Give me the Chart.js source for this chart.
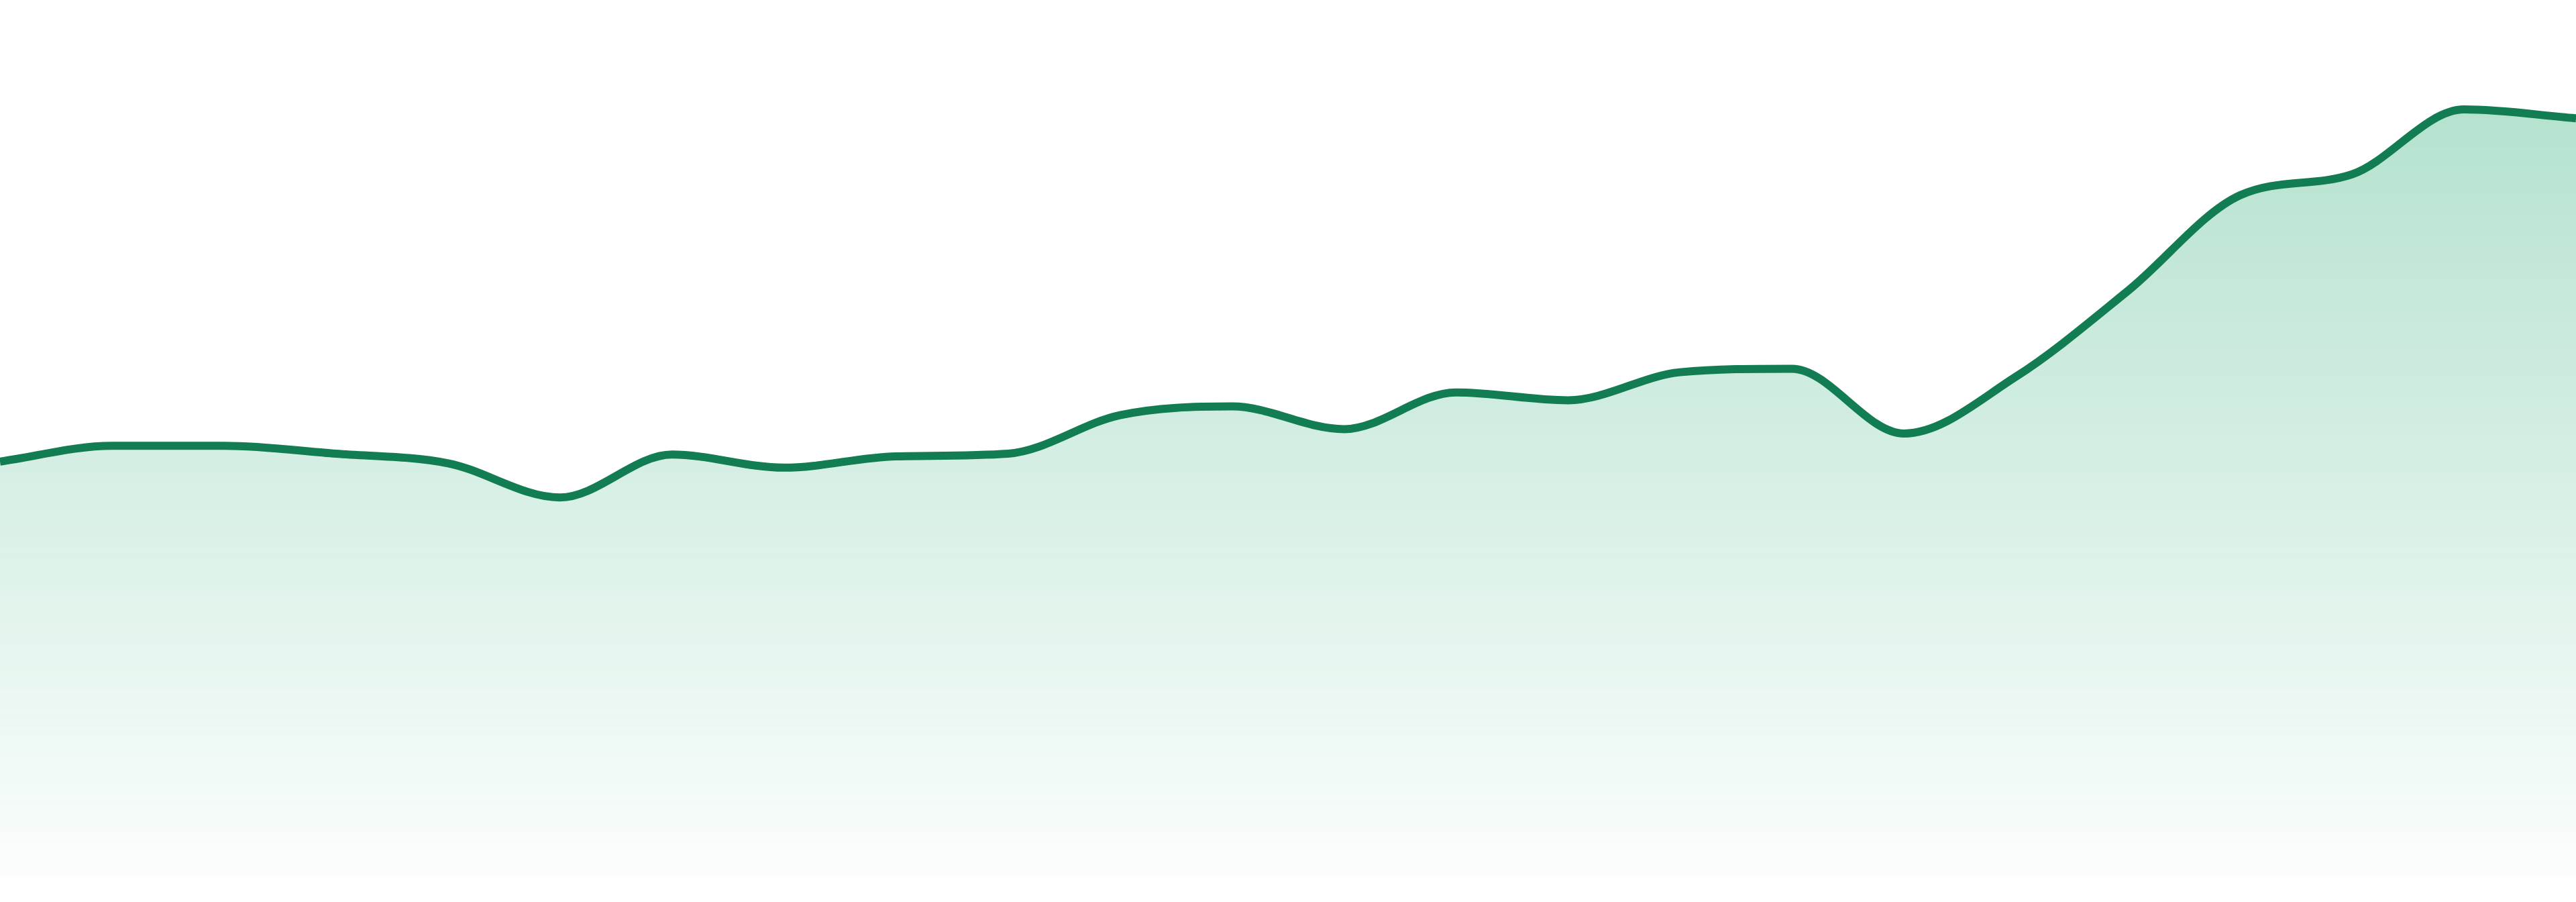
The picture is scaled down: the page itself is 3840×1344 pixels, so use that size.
<!DOCTYPE html>
<html>
<head>
<meta charset="utf-8">
<script src="https://cdn.jsdelivr.net/npm/chart.js@4/dist/chart.umd.min.js"></script>
<style>
  html, body { margin: 0; padding: 0; background: #fff; overflow: hidden; }
  #wrap { width: 3840px; height: 1344px; position: relative; }
</style>
</head>
<body>
<div id="wrap"><canvas id="areaChart"></canvas></div>
<script>
// du lieu doc tu hinh
const labels = ['01','02','03','04','05','06','07','08','09','10','11','12',
                '13','14','15','16','17','18','19','20','21','22','23','24'];
const values = [47.3, 49.1, 49.1, 48.2, 47.1, 43.2, 48.1, 46.6, 47.9, 48.2, 52.6, 53.6,
                51.0, 55.2, 54.3, 57.5, 57.9, 50.5, 57.0, 66.8, 77.7, 80.1, 87.5, 86.5];

// ham tao gradient cho vung to
function fillGradient(context){
    const chart = context.chart;
    const area = chart.chartArea;
    if (!area) return 'rgba(34,168,112,0.2)';
    const g = chart.ctx.createLinearGradient(0, area.top, 0, area.bottom);
    g.addColorStop(0, 'rgba(34,168,112,0.38)');
    g.addColorStop(1, 'rgba(34,168,112,0.02)');
    return g;
}

function areaChart(id, lbls=[], data=[]){
    const config = {
        type: 'line',
        data: {
            labels: lbls,
            datasets: [{
                data: data,
                borderColor: '#127c52',
                borderWidth: 12,
                backgroundColor: fillGradient,
                fill: 'start',
                pointRadius: 0,
                cubicInterpolationMode: 'monotone'
            }]
        },
        options: {
            responsive: true,
            maintainAspectRatio: false,
            animation: false,
            devicePixelRatio: 1,
            layout: { padding: { top: 0, left: 0, right: 0, bottom: 39 } },
            plugins: { legend: { display: false }, tooltip: { enabled: false } },
            scales: {
                x: { display: false, offset: false },
                y: { display: false, min: 0, max: 100 }
            }
        }
    };
    let ctx = document.getElementById(id).getContext('2d');
    new Chart(ctx, config);
}

areaChart('areaChart', labels, values);
</script>
</body>
</html>
